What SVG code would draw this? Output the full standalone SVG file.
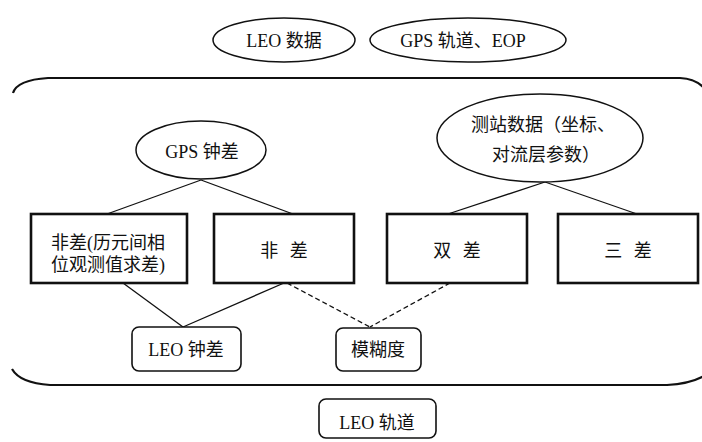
<svg xmlns="http://www.w3.org/2000/svg" width="702" height="442" viewBox="0 0 702 442">
<style>
text{font-family:"Liberation Serif","Noto Sans CJK SC",serif;font-size:18px;fill:#111;text-anchor:middle}
.ell{fill:#fff;stroke:#111;stroke-width:1.5}
.box{fill:#fff;stroke:#111;stroke-width:2.6}
.rbox{fill:#fff;stroke:#111;stroke-width:1.6}
.ln{stroke:#111;stroke-width:1.3;fill:none}
.dash{stroke-dasharray:5 3}
.frame{fill:none;stroke:#111;stroke-width:2.2}
.sp{word-spacing:7px}
</style>
<rect width="702" height="442" fill="#fff"/>
<g id="frame">
<path class="frame" d="M13,93 Q17,80 48,78 L680,78 Q696,79 704,88"/>
<path class="frame" d="M12,369 Q20,383 50,385 L667,385 Q690,384 704,376"/>
</g>
<g id="connectors">
<line class="ln" x1="201" y1="180" x2="107" y2="214"/>
<line class="ln" x1="201" y1="180" x2="293" y2="214"/>
<line class="ln" x1="545" y1="182" x2="448" y2="214"/>
<line class="ln" x1="545" y1="182" x2="637" y2="214"/>
<line class="ln" x1="123" y1="283" x2="183" y2="327"/>
<line class="ln" x1="284" y1="283" x2="183" y2="327"/>
<line class="ln dash" x1="287" y1="283" x2="370" y2="327"/>
<line class="ln dash" x1="450" y1="283" x2="370" y2="327"/>
</g>
<g id="leo-data">
<ellipse class="ell" cx="284" cy="40" rx="71" ry="22"/>
<text x="284" y="47" font-size="20">LEO 数据</text>
</g>
<g id="gps-orbit">
<ellipse class="ell" cx="468" cy="40" rx="98" ry="22"/>
<text x="463" y="47" font-size="20">GPS 轨道、EOP</text>
</g>
<g id="gps-clock">
<ellipse class="ell" cx="201" cy="150" rx="65" ry="29"/>
<text x="202" y="158" font-size="19">GPS 钟差</text>
</g>
<g id="station">
<ellipse class="ell" cx="540" cy="138" rx="103" ry="44"/>
<text x="543" y="131">测站数据（坐标、</text>
<text x="546" y="161">对流层参数）</text>
</g>
<g id="box-undiff-epoch">
<rect class="box" x="31" y="214" width="156" height="69"/>
<text x="108" y="249" font-size="19">非差(历元间相</text>
<text x="108" y="271" font-size="19">位观测值求差)</text>
</g>
<g id="box-undiff">
<rect class="box" x="214" y="214" width="140" height="69"/>
<text class="sp" x="284" y="257" font-size="19">非 差</text>
</g>
<g id="box-double">
<rect class="box" x="387" y="214" width="140" height="69"/>
<text class="sp" x="457" y="257" font-size="19">双 差</text>
</g>
<g id="box-triple">
<rect class="box" x="558" y="214" width="140" height="69"/>
<text class="sp" x="628" y="257" font-size="19">三 差</text>
</g>
<g id="leo-clock">
<rect class="rbox" x="132" y="327" width="109" height="44" rx="7"/>
<text x="186" y="356" font-size="19">LEO 钟差</text>
</g>
<g id="ambiguity">
<rect class="rbox" x="336" y="328" width="85" height="43" rx="7"/>
<text x="378" y="356" font-size="19">模糊度</text>
</g>
<g id="leo-orbit">
<rect class="rbox" x="319" y="399" width="117" height="39" rx="7"/>
<text x="377" y="429" font-size="19">LEO 轨道</text>
</g>
</svg>
